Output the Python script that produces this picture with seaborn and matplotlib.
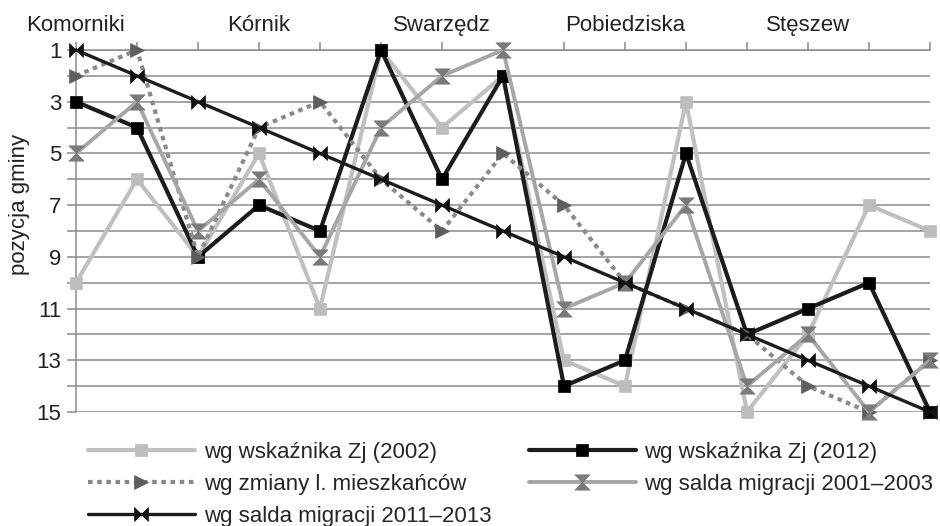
import numpy as np
import pandas as pd
import matplotlib
matplotlib.use("Agg")
import matplotlib.pyplot as plt
import seaborn as sns
from matplotlib.path import Path

# dane: pozycje gmin w rankingach (1 = najlepsza)
gminy = ["Komorniki", "", "", "Kórnik", "", "", "Swarzędz", "", "",
         "Pobiedziska", "", "", "Stęszew", "", ""]
zj_2002 = [10, 6, 9, 5, 11, 1, 4, 2, 13, 14, 3, 15, 12, 7, 8]
zj_2012 = [3, 4, 9, 7, 8, 1, 6, 2, 14, 13, 5, 12, 11, 10, 15]
zmiana_mieszk = [2, 1, 9, 4, 3, 6, 8, 5, 7, 10, 11, 12, 14, 15, 13]
saldo_2001_2003 = [5, 3, 8, 6, 9, 4, 2, 1, 11, 10, 7, 14, 12, 15, 13]
saldo_2011_2013 = [1, 2, 3, 4, 5, 6, 7, 8, 9, 10, 11, 12, 13, 14, 15]

sns.set_style("white")
plt.rcParams["font.family"] = ["Liberation Sans", "DejaVu Sans"]
plt.rcParams["font.size"] = 16

# markery: klepsydra i muszka
klepsydra = Path([(-1, 1), (1, 1), (-1, -1), (1, -1), (-1, 1)],
                 [Path.MOVETO, Path.LINETO, Path.LINETO, Path.LINETO, Path.CLOSEPOLY])
muszka = Path([(-1, 1), (-1, -1), (1, 1), (1, -1), (-1, 1)],
              [Path.MOVETO, Path.LINETO, Path.LINETO, Path.LINETO, Path.CLOSEPOLY])

fig = plt.figure(figsize=(9.4, 5.26), dpi=100)
ax = fig.add_axes([76 / 940, 1 - 412 / 526, (930 - 76) / 940, (412 - 50) / 526])

x = np.arange(len(gminy))
serie = [
    ("wg wskaźnika Zj (2002)", zj_2002,
     dict(color="#c0c0c0", lw=3.0, marker="s", ms=8.5, mfc="#bdbdbd", mec="#bdbdbd", ls="-")),
    ("wg wskaźnika Zj (2012)", zj_2012,
     dict(color="#1c1c1c", lw=3.0, marker="s", ms=8.5, mfc="#000000", mec="#000000", ls="-")),
    ("wg zmiany l. mieszkańców", zmiana_mieszk,
     dict(color="#8a8a8a", lw=3.0, marker=">", ms=9.5, mfc="#5e5e5e", mec="#5e5e5e",
          ls=(0, (1.1, 1.1)), dash_capstyle="butt")),
    ("wg salda migracji 2001–2003", saldo_2001_2003,
     dict(color="#a6a6a6", lw=2.8, marker=klepsydra, ms=11, mfc="#7a7a7a", mec="#7a7a7a", ls="-")),
    ("wg salda migracji 2011–2013", saldo_2011_2013,
     dict(color="#1c1c1c", lw=2.4, marker=muszka, ms=10, mfc="#111111", mec="#111111", ls="-")),
]

for nazwa, wart, styl in serie:
    df = pd.DataFrame({"x": x, "y": wart})
    sns.lineplot(data=df, x="x", y="y", ax=ax, label=nazwa, mew=0.5,
                 clip_on=False, zorder=3, **styl)

ax.set_xlim(0, 14)
ax.set_ylim(15, 1)

# oś y
ax.set_yticks(np.arange(1, 16, 2))
ax.set_yticks(np.arange(2, 16, 2), minor=True)
ax.tick_params(axis="y", which="both", direction="out", length=6.5, width=1.1,
               color="#8c8c8c", pad=4, labelsize=16, labelcolor="#222222", left=True)
ax.yaxis.grid(True, which="both", color="#8c8c8c", lw=1.1)
ax.set_ylabel("pozycja gminy", fontsize=16, color="#222222")
ax.yaxis.set_label_coords(-0.054, 0.572)

# oś x u góry
ax.xaxis.tick_top()
ax.set_xticks(x)
ax.set_xticklabels(gminy)
ax.tick_params(axis="x", direction="out", length=6, width=1.1, color="#8c8c8c",
               pad=4, labelsize=16, labelcolor="#222222", top=True, bottom=False)
ax.set_xlabel("")

for s in ["right", "bottom"]:
    ax.spines[s].set_visible(False)
ax.spines["left"].set_color("#8c8c8c")
ax.spines["left"].set_linewidth(1.1)
ax.spines["top"].set_color("#8c8c8c")
ax.spines["top"].set_linewidth(1.1)

# legenda
uchwyty, etykiety = ax.get_legend_handles_labels()
ax.get_legend().remove()
kolejnosc = [0, 2, 4, 1, 3]
fig.legend([uchwyty[i] for i in kolejnosc], [etykiety[i] for i in kolejnosc],
           ncol=2, loc="upper left", bbox_to_anchor=(88 / 940, 1 - 442 / 526),
           frameon=False, fontsize=16, handlelength=4.8, handletextpad=0.4,
           columnspacing=1.7, labelspacing=0.5, borderpad=0, borderaxespad=0)

fig.savefig("out.png", dpi=100)
